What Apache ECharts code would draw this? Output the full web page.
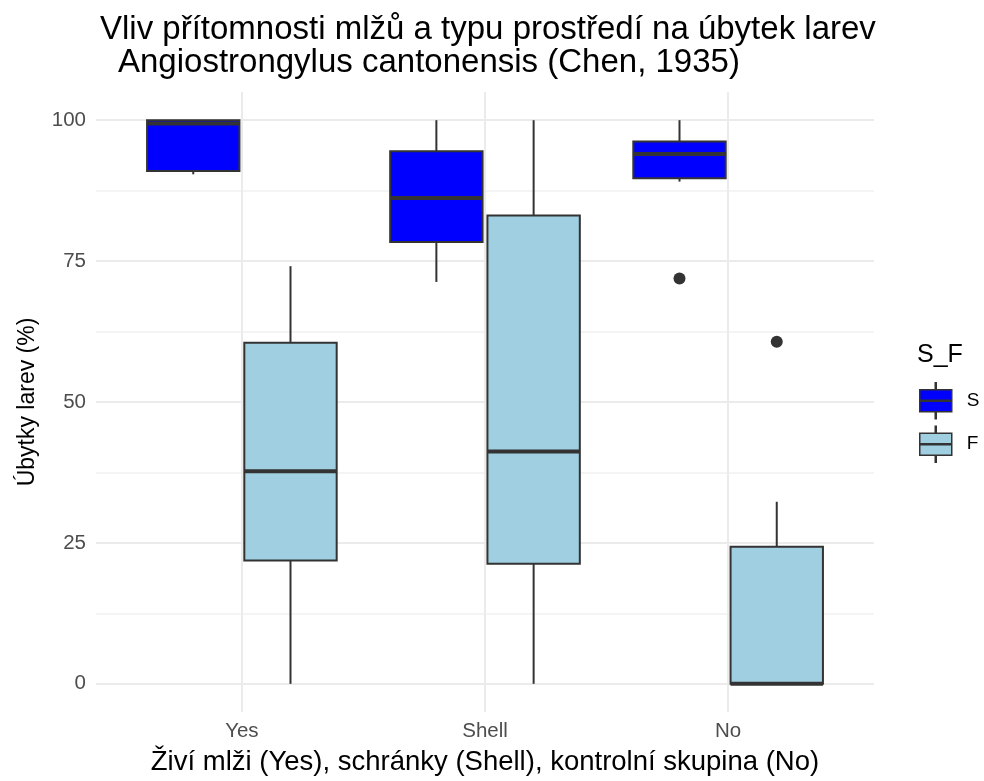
<!DOCTYPE html>
<html>
<head>
<meta charset="utf-8">
<script src="https://cdn.jsdelivr.net/npm/echarts@6/dist/echarts.min.js"></script>
<style>
  html, body { margin: 0; padding: 0; background: #fff; }
  #chart { width: 984px; height: 781px; }
</style>
</head>
<body>
<div id="chart"></div>
<script>
// data
var categories = ['Yes', 'Shell', 'No'];
var groups = ['S', 'F'];
// [min, Q1, median, Q3, max] per category
var sStats = [
  [90.4, 91.0, 99.4, 100, 100],
  [71.3, 78.4, 86.2, 94.5, 100],
  [89.1, 89.7, 94.0, 96.2, 100]
];
var fStats = [
  [0, 21.9, 37.7, 60.5, 74.1],
  [0, 21.3, 41.2, 83.1, 100],
  [0, 0, 0, 24.3, 32.3]
];
var sOutlierCats = ['No'];
var sOutlierValues = [71.9];
var fOutlierCats = ['No'];
var fOutlierValues = [60.7];
var yTicks = [0, 25, 50, 75, 100];
var yGridLines = [0, 12.5, 25, 37.5, 50, 62.5, 75, 87.5, 100];

var colors = { S: '#0000FF', F: '#9FCFE0' };
var edge = '#333333';
var dodge = 0.2;     // box centre offset from the category centre
var halfBox = 0.19;

function boxData(stats) {
  return stats.map(function (s, i) { return [i].concat(s); });
}
function outlierData(cats, vals, off) {
  return cats.map(function (c, i) { return [categories.indexOf(c) + 1 + off, vals[i]]; });
}

function makeRender(off, fill) {
  return function (params, api) {
    var xc = api.value(0) + 1 + off;
    var pMin = api.coord([xc, api.value(1)]);
    var pQ1 = api.coord([xc, api.value(2)]);
    var pMed = api.coord([xc, api.value(3)]);
    var pQ3 = api.coord([xc, api.value(4)]);
    var pMax = api.coord([xc, api.value(5)]);
    var xl = api.coord([xc - halfBox, 0])[0];
    var xr = api.coord([xc + halfBox, 0])[0];
    var line = { stroke: edge, lineWidth: 2 };
    return {
      type: 'group',
      children: [
        { type: 'line', shape: { x1: pQ3[0], y1: pQ3[1], x2: pMax[0], y2: pMax[1] }, style: line },
        { type: 'line', shape: { x1: pMin[0], y1: pMin[1], x2: pQ1[0], y2: pQ1[1] }, style: line },
        { type: 'rect', shape: { x: xl, y: pQ3[1], width: xr - xl, height: pQ1[1] - pQ3[1] },
          style: { fill: fill, stroke: edge, lineWidth: 2 } },
        { type: 'line', shape: { x1: xl, y1: pMed[1], x2: xr, y2: pMed[1] },
          style: { stroke: edge, lineWidth: 4 } }
      ]
    };
  };
}

var boxIcon = 'path://M15.5,0h1v7h-1Z M0,7h32v22h-32Z M0,17.5h32v1h-32Z M15.5,29h1v7h-1Z';

var myChart = echarts.init(document.getElementById('chart'));
var option = {
  animation: false,
  textStyle: { fontFamily: 'Liberation Sans, Arial, sans-serif' },
  title: [
    { text: 'Vliv přítomnosti mlžů a typu prostředí na úbytek larev', left: 95, top: 8,
      textStyle: { fontSize: 33, fontWeight: 'normal', color: '#000' } },
    { text: 'Angiostrongylus cantonensis (Chen, 1935)', left: 113, top: 41,
      textStyle: { fontSize: 33, fontWeight: 'normal', color: '#000' } },
    { text: 'S_F', left: 912, top: 338,
      textStyle: { fontSize: 25, fontWeight: 'normal', color: '#000' } }
  ],
  legend: {
    orient: 'vertical',
    left: 914,
    top: 377,
    itemWidth: 32,
    itemHeight: 36,
    itemGap: 6,
    textStyle: { fontSize: 19, color: '#000', padding: [0, 0, 0, 10] },
    data: [
      { name: 'S', icon: boxIcon, itemStyle: { color: colors.S, borderColor: edge, borderWidth: 1.5 } },
      { name: 'F', icon: boxIcon, itemStyle: { color: colors.F, borderColor: edge, borderWidth: 1.5 } }
    ]
  },
  grid: { left: 96, right: 110, top: 92, bottom: 67, containLabel: false },
  xAxis: {
    type: 'value',
    min: 0.4,
    max: 3.6,
    name: 'Živí mlži (Yes), schránky (Shell), kontrolní skupina (No)',
    nameLocation: 'middle',
    nameGap: 36,
    nameTextStyle: { fontSize: 27.5, color: '#000' },
    axisLine: { show: false },
    axisTick: { show: false, customValues: [1, 2, 3] },
    axisLabel: {
      customValues: [1, 2, 3],
      margin: 9,
      fontSize: 20.5,
      color: '#4D4D4D',
      formatter: function (v) { return categories[Math.round(v) - 1]; }
    },
    splitLine: { show: true, lineStyle: { color: '#EBEBEB', width: 2 } }
  },
  yAxis: {
    type: 'value',
    min: -5,
    max: 105,
    name: 'Úbytky larev (%)',
    nameLocation: 'middle',
    nameGap: 57,
    nameTextStyle: { fontSize: 23, color: '#000' },
    axisLine: { show: false },
    axisTick: { show: false, customValues: yGridLines },
    axisLabel: { customValues: yTicks, margin: 10, fontSize: 20.5, color: '#4D4D4D' },
    splitLine: { show: true, lineStyle: { color: ['#EBEBEB', '#F4F4F4'], width: 2 } }
  },
  series: [
    {
      name: 'S', type: 'custom', data: boxData(sStats),
      encode: { x: 0, y: [1, 2, 3, 4, 5] },
      itemStyle: { color: colors.S, borderColor: edge },
      renderItem: makeRender(-dodge, colors.S)
    },
    {
      name: 'F', type: 'custom', data: boxData(fStats),
      encode: { x: 0, y: [1, 2, 3, 4, 5] },
      itemStyle: { color: colors.F, borderColor: edge },
      renderItem: makeRender(dodge, colors.F)
    },
    {
      name: 'S outliers', type: 'scatter', data: outlierData(sOutlierCats, sOutlierValues, -dodge),
      symbolSize: 12, itemStyle: { color: edge, opacity: 1 }
    },
    {
      name: 'F outliers', type: 'scatter', data: outlierData(fOutlierCats, fOutlierValues, dodge),
      symbolSize: 12, itemStyle: { color: edge, opacity: 1 }
    }
  ]
};
option && myChart.setOption(option);
</script>
</body>
</html>
